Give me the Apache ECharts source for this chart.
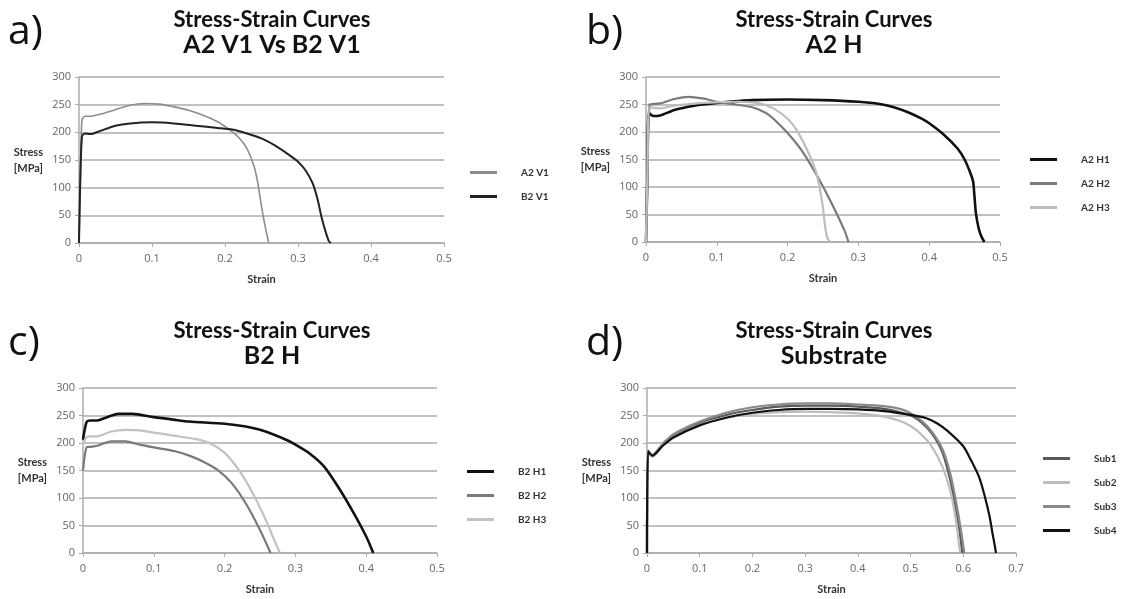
<!DOCTYPE html>
<html>
<head>
<meta charset="utf-8">
<title>Stress-Strain Curves</title>
<script src="https://cdn.jsdelivr.net/npm/echarts@6/dist/echarts.min.js"></script>
<style>
  html, body { margin: 0; padding: 0; background: #fff; }
  #chart { width: 1126px; height: 599px; }
</style>
</head>
<body>
<div id="chart"></div>
<script>
// tick values
const stressTicks = [0, 50, 100, 150, 200, 250, 300]
const strainTicks = [0, 0.1, 0.2, 0.3, 0.4, 0.5]
const strainTicksSub = [0, 0.1, 0.2, 0.3, 0.4, 0.5, 0.6, 0.7]

// a) A2 V1 vs B2 V1  [strain, stress MPa]
const a2v1 = [[0, 0], [0.002, 120], [0.004, 222], [0.008, 229], [0.015, 229], [0.02, 230], [0.03, 233],
  [0.05, 241], [0.07, 249], [0.09, 252], [0.11, 251], [0.13, 246], [0.15, 240], [0.17, 231],
  [0.19, 219], [0.21, 201], [0.22, 189], [0.23, 171], [0.24, 138], [0.245, 108], [0.25, 66],
  [0.255, 30], [0.26, 0]]
const b2v1 = [[0, 0], [0.0015, 100], [0.004, 192], [0.008, 198], [0.015, 197], [0.02, 198],
  [0.03, 203], [0.05, 212], [0.07, 216], [0.1, 218], [0.13, 216], [0.16, 212], [0.19, 208],
  [0.21, 205], [0.23, 198], [0.25, 189], [0.27, 175], [0.29, 157], [0.3, 147], [0.31, 132],
  [0.32, 108], [0.327, 78], [0.332, 48], [0.337, 24], [0.342, 4], [0.345, 0]]

// b) A2 H
const a2h1 = [[0, 0], [0.002, 120], [0.004, 235], [0.01, 229], [0.02, 230], [0.04, 240], [0.06, 246],
  [0.08, 250], [0.1, 253], [0.15, 258], [0.2, 259], [0.25, 258], [0.3, 255], [0.33, 251],
  [0.35, 245], [0.37, 236], [0.39, 224], [0.4, 216], [0.42, 196], [0.44, 170], [0.45, 150],
  [0.458, 126], [0.462, 110], [0.464, 82], [0.466, 52], [0.47, 24], [0.474, 9], [0.478, 0]]
const a2h2 = [[0, 0], [0.002, 120], [0.005, 250], [0.01, 251], [0.02, 252], [0.04, 260], [0.06, 264],
  [0.08, 261], [0.1, 255], [0.12, 251], [0.15, 245], [0.17, 234], [0.18, 224], [0.2, 198],
  [0.22, 166], [0.24, 124], [0.26, 76], [0.28, 22], [0.286, 0]]
const a2h3 = [[0, 0], [0.002, 120], [0.005, 245], [0.02, 243], [0.04, 248], [0.08, 253], [0.1, 254],
  [0.13, 255], [0.16, 252], [0.18, 243], [0.2, 224], [0.213, 203], [0.23, 161], [0.24, 128],
  [0.245, 100], [0.25, 62], [0.253, 28], [0.256, 8], [0.26, 0]]

// c) B2 H
const b2h1 = [[0, 206], [0.005, 238], [0.01, 241], [0.02, 241], [0.03, 245], [0.05, 253], [0.07, 253],
  [0.1, 247], [0.13, 242], [0.15, 239], [0.2, 235], [0.23, 230], [0.25, 224], [0.27, 215],
  [0.29, 204], [0.3, 197], [0.32, 181], [0.34, 158], [0.36, 121], [0.38, 78], [0.4, 30], [0.41, 0]]
const b2h2 = [[0, 150], [0.005, 192], [0.01, 193], [0.02, 195], [0.04, 203], [0.06, 203], [0.08, 197],
  [0.1, 192], [0.13, 185], [0.15, 177], [0.17, 166], [0.19, 151], [0.21, 127], [0.23, 90],
  [0.25, 42], [0.265, 0]]
const b2h3 = [[0, 195], [0.005, 211], [0.01, 212], [0.02, 212], [0.04, 221], [0.06, 224], [0.08, 223],
  [0.1, 219], [0.13, 213], [0.16, 207], [0.18, 199], [0.2, 182], [0.22, 151], [0.24, 108],
  [0.26, 55], [0.27, 24], [0.278, 0]]

// d) Substrate
const sub1 = [[0, 0], [0.002, 185], [0.01, 176], [0.03, 197], [0.05, 213], [0.1, 236], [0.15, 251],
  [0.2, 260], [0.25, 266], [0.3, 268], [0.35, 268], [0.4, 266], [0.45, 262], [0.5, 250],
  [0.52, 238], [0.54, 218], [0.56, 184], [0.575, 134], [0.585, 86], [0.593, 40], [0.598, 0]]
const sub2 = [[0, 0], [0.002, 183], [0.01, 175], [0.03, 195], [0.05, 211], [0.1, 233], [0.15, 246],
  [0.2, 253], [0.25, 256], [0.3, 257], [0.35, 256], [0.4, 254], [0.45, 248], [0.48, 240],
  [0.5, 231], [0.52, 216], [0.54, 194], [0.56, 158], [0.575, 114], [0.585, 66], [0.59, 30], [0.594, 0]]
const sub3 = [[0, 0], [0.002, 186], [0.01, 178], [0.03, 199], [0.05, 216], [0.1, 239], [0.15, 255],
  [0.2, 265], [0.25, 270], [0.3, 272], [0.35, 272], [0.4, 270], [0.45, 267], [0.48, 262],
  [0.5, 254], [0.52, 241], [0.54, 221], [0.56, 190], [0.575, 146], [0.585, 100], [0.595, 45], [0.602, 0]]
const sub4 = [[0, 0], [0.002, 185], [0.01, 177], [0.03, 195], [0.05, 210], [0.1, 232], [0.15, 246],
  [0.2, 255], [0.25, 260], [0.3, 262], [0.35, 262], [0.4, 261], [0.45, 258], [0.5, 251],
  [0.53, 245], [0.55, 236], [0.57, 222], [0.6, 194], [0.615, 168], [0.63, 138], [0.64, 106],
  [0.65, 66], [0.655, 38], [0.66, 12], [0.662, 0]]

const panelTitles = ['A2 V1 Vs B2 V1', 'A2 H', 'B2 H', 'Substrate']
const panelLetters = ['a)', 'b)', 'c)', 'd)']

const FONT = 'Lato, "Open Sans", sans-serif'
const GRID_COLOR = '#acacac'

// plot boxes and legend spots, in px
const panels = [
  { left: 79, top: 77, width: 365, height: 166, ticks: strainTicks, cx: 272, ty: 7, lx: 8, ly: 12, legX: 470, legY: 166 },
  { left: 646, top: 77, width: 354, height: 165, ticks: strainTicks, cx: 834, ty: 7, lx: 586, ly: 12, legX: 1030, legY: 153 },
  { left: 83, top: 388, width: 354, height: 165, ticks: strainTicks, cx: 272, ty: 318, lx: 8, ly: 323, legX: 467, legY: 465 },
  { left: 647, top: 388, width: 369, height: 165, ticks: strainTicksSub, cx: 834, ty: 318, lx: 586, ly: 323, legX: 1043, legY: 452 }
]

const seriesDefs = [
  { name: 'A2 V1', data: a2v1, panel: 0, color: '#8d8d8d', width: 1.6 },
  { name: 'B2 V1', data: b2v1, panel: 0, color: '#222222', width: 2 },
  { name: 'A2 H1', data: a2h1, panel: 1, color: '#111111', width: 2.6 },
  { name: 'A2 H2', data: a2h2, panel: 1, color: '#7a7a7a', width: 2.2 },
  { name: 'A2 H3', data: a2h3, panel: 1, color: '#bdbdbd', width: 2.2 },
  { name: 'B2 H1', data: b2h1, panel: 2, color: '#111111', width: 2.6 },
  { name: 'B2 H2', data: b2h2, panel: 2, color: '#7a7a7a', width: 2.2 },
  { name: 'B2 H3', data: b2h3, panel: 2, color: '#c2c2c2', width: 2.2 },
  { name: 'Sub1', data: sub1, panel: 3, color: '#5a5a5a', width: 2.2 },
  { name: 'Sub2', data: sub2, panel: 3, color: '#bdbdbd', width: 2.2 },
  { name: 'Sub3', data: sub3, panel: 3, color: '#8a8a8a', width: 2.2 },
  { name: 'Sub4', data: sub4, panel: 3, color: '#111111', width: 2.2 }
]

const chart = echarts.init(document.getElementById('chart'))

const titles = []
panels.forEach((p, i) => {
  titles.push({
    text: panelLetters[i],
    left: p.lx,
    top: p.ly,
    padding: 0,
    textStyle: { fontFamily: '"Open Sans", sans-serif', fontSize: 41, fontWeight: 'normal', color: '#111' }
  })
  titles.push({
    text: '{l1|Stress-Strain Curves}\n{l2|' + panelTitles[i] + '}',
    left: p.cx,
    top: p.ty,
    padding: 0,
    textAlign: 'center',
    textStyle: {
      rich: {
        l1: { fontFamily: FONT, fontSize: 22, fontWeight: 'bold', color: '#111', lineHeight: 25, align: 'center' },
        l2: { fontFamily: FONT, fontSize: 25, fontWeight: 'bold', color: '#111', lineHeight: 26, align: 'center' }
      }
    }
  })
})

const option = {
  backgroundColor: '#fff',
  animation: false,
  title: titles,
  legend: panels.map((p, i) => ({
    data: seriesDefs.filter(s => s.panel === i).map(s => s.name),
    orient: 'vertical',
    left: p.legX,
    top: p.legY,
    padding: 0,
    icon: 'rect',
    itemWidth: 27,
    itemHeight: 3,
    itemGap: 11,
    selectedMode: false,
    textStyle: { fontFamily: FONT, fontSize: 10, fontWeight: 'bold', color: '#333', padding: [0, 0, 0, 19], lineHeight: 13 }
  })),
  grid: panels.map(p => ({ left: p.left, top: p.top, width: p.width, height: p.height, containLabel: false })),
  xAxis: panels.map((p, i) => ({
    type: 'value',
    gridIndex: i,
    min: p.ticks[0],
    max: p.ticks[p.ticks.length - 1],
    interval: p.ticks[1] - p.ticks[0],
    name: 'Strain',
    nameLocation: 'middle',
    nameGap: 31,
    nameTextStyle: { fontFamily: FONT, fontSize: 11, fontWeight: 'bold', color: '#333' },
    axisLine: { onZero: false, lineStyle: { color: GRID_COLOR, width: 1.5 } },
    axisTick: { show: true, length: 4, lineStyle: { color: GRID_COLOR } },
    axisLabel: { fontFamily: '"Open Sans", sans-serif', fontSize: 11, color: '#666', margin: 10 },
    splitLine: { show: false }
  })),
  yAxis: panels.map((p, i) => ({
    type: 'value',
    gridIndex: i,
    min: stressTicks[0],
    max: stressTicks[stressTicks.length - 1],
    interval: stressTicks[1] - stressTicks[0],
    name: 'Stress\n[MPa]',
    nameLocation: 'middle',
    nameRotate: 0,
    nameGap: 36,
    nameTextStyle: { fontFamily: FONT, fontSize: 11, fontWeight: 'bold', color: '#333', lineHeight: 16, align: 'right' },
    axisLine: { show: true, lineStyle: { color: GRID_COLOR, width: 1.5 } },
    axisTick: { show: true, length: 4, lineStyle: { color: GRID_COLOR } },
    axisLabel: { fontFamily: '"Open Sans", sans-serif', fontSize: 11, color: '#666', margin: 8 },
    splitLine: { show: true, lineStyle: { color: GRID_COLOR, width: 1.6 } }
  })),
  series: seriesDefs.map(s => ({
    name: s.name,
    type: 'line',
    xAxisIndex: s.panel,
    yAxisIndex: s.panel,
    data: s.data,
    symbol: 'none',
    smooth: 0.25,
    color: s.color,
    lineStyle: { color: s.color, width: s.width }
  }))
}

chart.setOption(option)
</script>
</body>
</html>
